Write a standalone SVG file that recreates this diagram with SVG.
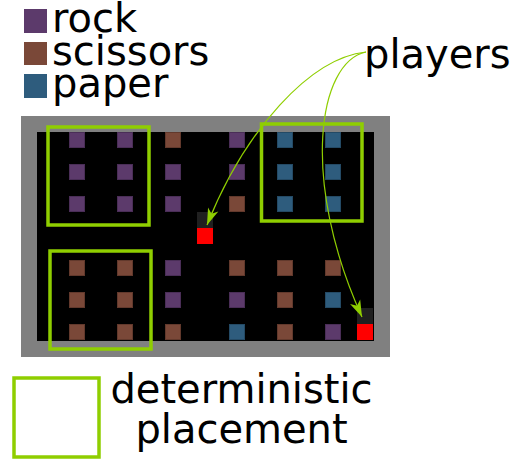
<svg xmlns="http://www.w3.org/2000/svg" width="513" height="463" viewBox="0 0 513 463">
<style>
text{font-family:"DejaVu Sans",sans-serif;font-size:40px;fill:#000}
.r{fill:#5c3a6b;stroke:#4a2e57}
.s{fill:#7a4838;stroke:#62392c}
.p{fill:#2e5c7d;stroke:#244a65}
.t{stroke-width:1}
.box{fill:none;stroke:#8fce00;stroke-width:3.5}
.arr{fill:none;stroke:#8fce00;stroke-width:1.2}
.trail{fill:#202020}
.player{fill:#ff0000}
</style>
<defs>
<marker id="ah" markerUnits="userSpaceOnUse" markerWidth="20" markerHeight="20" viewBox="-16 -8 18 16" refX="0" refY="0" orient="auto">
<path d="M0,0 L-15,-5 L-11,0 L-15,5 Z" fill="#8fce00"/>
</marker>
</defs>
<g id="legend">
<g id="legend-rock"><rect x="24" y="9" width="23" height="24" fill="#5c3a6b"/><text x="52" y="32">rock</text></g>
<g id="legend-scissors"><rect x="24" y="42" width="23" height="23" fill="#7a4838"/><text x="52" y="65">scissors</text></g>
<g id="legend-paper"><rect x="24" y="74" width="23" height="24" fill="#2e5c7d"/><text x="52" y="97">paper</text></g>
</g>
<g id="arena">
<rect x="21" y="116" width="369" height="241" fill="#808080"/>
<rect x="37" y="132" width="337" height="209" fill="#000"/>
</g>
<g id="tiles" class="t">
<rect class="r" x="69.5" y="132.5" width="15" height="15"/>
<rect class="r" x="117.5" y="132.5" width="15" height="15"/>
<rect class="s" x="165.5" y="132.5" width="15" height="15"/>
<rect class="r" x="229.5" y="132.5" width="15" height="15"/>
<rect class="p" x="277.5" y="132.5" width="15" height="15"/>
<rect class="p" x="325.5" y="132.5" width="15" height="15"/>
<rect class="r" x="69.5" y="164.5" width="15" height="15"/>
<rect class="r" x="117.5" y="164.5" width="15" height="15"/>
<rect class="r" x="165.5" y="164.5" width="15" height="15"/>
<rect class="r" x="229.5" y="164.5" width="15" height="15"/>
<rect class="p" x="277.5" y="164.5" width="15" height="15"/>
<rect class="p" x="325.5" y="164.5" width="15" height="15"/>
<rect class="r" x="69.5" y="196.5" width="15" height="15"/>
<rect class="r" x="117.5" y="196.5" width="15" height="15"/>
<rect class="r" x="165.5" y="196.5" width="15" height="15"/>
<rect class="s" x="229.5" y="196.5" width="15" height="15"/>
<rect class="p" x="277.5" y="196.5" width="15" height="15"/>
<rect class="p" x="325.5" y="196.5" width="15" height="15"/>
<rect class="s" x="69.5" y="260.5" width="15" height="15"/>
<rect class="s" x="117.5" y="260.5" width="15" height="15"/>
<rect class="r" x="165.5" y="260.5" width="15" height="15"/>
<rect class="s" x="229.5" y="260.5" width="15" height="15"/>
<rect class="s" x="277.5" y="260.5" width="15" height="15"/>
<rect class="s" x="325.5" y="260.5" width="15" height="15"/>
<rect class="s" x="69.5" y="292.5" width="15" height="15"/>
<rect class="s" x="117.5" y="292.5" width="15" height="15"/>
<rect class="r" x="165.5" y="292.5" width="15" height="15"/>
<rect class="r" x="229.5" y="292.5" width="15" height="15"/>
<rect class="s" x="277.5" y="292.5" width="15" height="15"/>
<rect class="p" x="325.5" y="292.5" width="15" height="15"/>
<rect class="s" x="69.5" y="324.5" width="15" height="15"/>
<rect class="s" x="117.5" y="324.5" width="15" height="15"/>
<rect class="s" x="165.5" y="324.5" width="15" height="15"/>
<rect class="p" x="229.5" y="324.5" width="15" height="15"/>
<rect class="s" x="277.5" y="324.5" width="15" height="15"/>
<rect class="r" x="325.5" y="324.5" width="15" height="15"/>
</g>
<g id="player1"><rect class="trail" x="197" y="212" width="16" height="16"/><rect class="player" x="197" y="228" width="16" height="16"/></g>
<g id="player2"><rect class="trail" x="357" y="308" width="16" height="16"/><rect class="player" x="357" y="324" width="16" height="16"/></g>
<g id="placement-boxes">
<rect class="box" x="48" y="127" width="101" height="98"/>
<rect class="box" x="261.5" y="124" width="100.5" height="97"/>
<rect class="box" x="50" y="251" width="101" height="98"/>
</g>
<g id="players-label"><text x="364" y="68">players</text></g>
<g id="connectors">
<path class="arr" d="M366,52 C310,58 245,130 207,225" marker-end="url(#ah)"/>
<path class="arr" d="M366,52 C318,62 300,180 362,317" marker-end="url(#ah)"/>
</g>
<g id="placement-legend">
<rect class="box" x="14" y="378" width="85" height="79"/>
<text x="241.5" y="403" text-anchor="middle">deterministic</text>
<text x="241.5" y="443" text-anchor="middle">placement</text>
</g>
</svg>
